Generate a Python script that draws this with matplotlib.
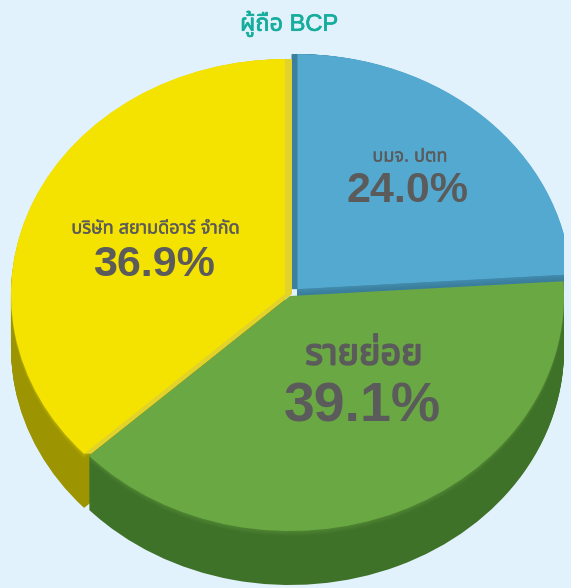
import matplotlib.patheffects as pe
import matplotlib.pyplot as plt
import numpy as np
from matplotlib import font_manager
from matplotlib.colors import to_rgb
from matplotlib.ft2font import FT2Font
from matplotlib.patches import Rectangle

# shareholders of BCP
labels = ["บมจ. ปตท", "รายย่อย", "บริษัท สยามดีอาร์ จำกัด"]
shares = [24.0, 39.1, 36.9]
title = "ผู้ถือ BCP"

top_colors = ["#53a9cf", "#6aa844", "#f4e200"]
side_colors = ["#3a7d9c", "#3f7229", "#9c9400"]
cut_colors = ["#3c80a0", None, "#e2d22c"]
explode = [0.04, 0.0, 0.02]


def find_thai_font():
    found = []
    for f in font_manager.fontManager.ttflist:
        try:
            if 0x0E01 in FT2Font(f.fname).get_charmap():
                found.append(f.name)
        except Exception:
            pass
    if not found:
        return None
    for pref in ["Noto Sans Thai", "IBM Plex Sans Thai", "Sarabun", "Prompt",
                 "Kanit", "Noto Sans Thai UI", "Loma"]:
        if pref in found:
            return pref
    for name in found:
        if "Looped" not in name:
            return name
    return found[0]


thai = find_thai_font()
families = ["Liberation Sans", "DejaVu Sans"]
if thai:
    families = ["Liberation Sans", thai, "DejaVu Sans"]
plt.rcParams["font.family"] = families

W, H = 571, 588
cx, cy = 290, 296  # pie centre, pixels from top-left
rx, ry = 274, 235  # ellipse radii of the top face
depth = 54

fig = plt.figure(figsize=(W / 100, H / 100), dpi=100)
fig.patch.set_facecolor("#e1f2fc")
ax = fig.add_axes([0, 0, 1, 1])
# keep the exploded blue wedge inside the outline of the pie at the right
right_clip = Rectangle((-5, -5), 5 + 1.0, 10, transform=ax.transData)


def draw_pie(colors, center, zorders, keep=None):
    wedges, _ = ax.pie(
        shares,
        colors=colors,
        explode=explode,
        startangle=90,
        counterclock=False,
        center=center,
        wedgeprops=dict(linewidth=0, antialiased=True),
    )
    for j, w in enumerate(wedges):
        if keep is not None and j not in keep:
            w.remove()
            continue
        w.set_zorder(zorders[j])
        if j == 0:
            w.set_clip_on(True)
            w.set_clip_path(right_clip)


# draw order: back wedges first so the front one covers their sides
rank = [0, 2, 1]
for k in range(depth, -1, -1):
    if k == 0:
        cols = top_colors
    else:
        t = min(k / 6.0, 1.0)
        cols = []
        for top, side in zip(top_colors, side_colors):
            a, b = np.array(to_rgb(top)), np.array(to_rgb(side))
            cols.append(tuple(b * t + (a * 0.35 + b * 0.65) * (1 - t)))
    draw_pie(cols, (0, -k / ry), [r * 1000 + (depth - k) + 1 for r in rank])

# cut faces between the exploded wedges
cut_z = [r * 1000 + depth + 0.5 for r in rank]
cols = [c if c else "none" for c in cut_colors]
for s in range(1, 8):
    draw_pie(cols, (s / rx, 0), cut_z, keep=[2])
for s in range(1, 7):
    draw_pie(cols, (-s / rx, 0), cut_z, keep=[0])

ax.set_aspect("auto")
ax.set_xlim(-cx / rx, (W - cx) / rx)
ax.set_ylim(-(H - cy) / ry, cy / ry)
ax.axis("off")


def px(x, y):
    return ((x - cx) / rx, (cy - y) / ry)


def heavy(width, color):
    return [pe.withStroke(linewidth=width, foreground=color)]


text_color = "#5b5b5b"
z = 5000
ax.text(*px(410, 157), labels[0], ha="center", va="center", fontsize=13,
        color=text_color, zorder=z, path_effects=heavy(0.3, text_color))
ax.text(*px(408, 191), f"{shares[0]:.1f}%", ha="center", va="center",
        fontsize=31, fontweight="bold", color=text_color, zorder=z)
ax.text(*px(364, 355), labels[1], ha="center", va="center", fontsize=26,
        color=text_color, zorder=z, path_effects=heavy(1.3, text_color))
ax.text(*px(362, 407), f"{shares[1]:.1f}%", ha="center", va="center",
        fontsize=40, fontweight="bold", color=text_color, zorder=z)
ax.text(*px(156, 229), labels[2], ha="center", va="center", fontsize=13,
        color=text_color, zorder=z, path_effects=heavy(0.3, text_color))
ax.text(*px(154, 265), f"{shares[2]:.1f}%", ha="center", va="center",
        fontsize=31, fontweight="bold", color=text_color, zorder=z)

title_color = "#16ad9c"
fig.text(289 / W, 1 - 24 / H, title, ha="center", va="center", fontsize=17,
         color=title_color, path_effects=heavy(0.5, title_color))

fig.savefig("out.png", dpi=100, facecolor=fig.get_facecolor())
